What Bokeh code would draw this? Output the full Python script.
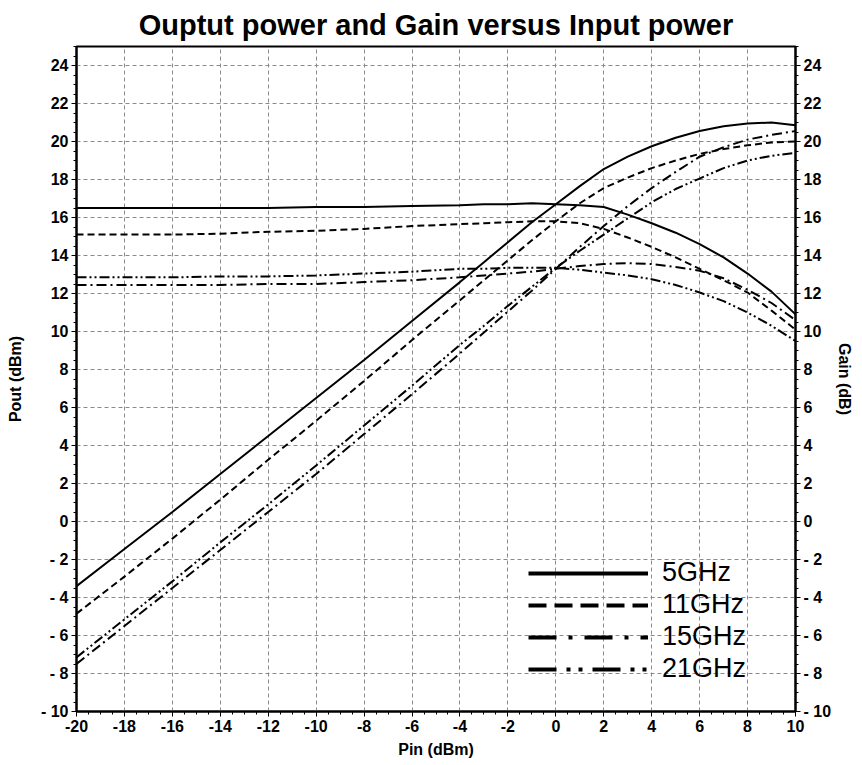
from bokeh.plotting import figure
from bokeh.models import (Range1d, LinearAxis, FixedTicker, ColumnDataSource,
                          Legend, LegendItem)
from bokeh.embed import file_html
from bokeh.resources import INLINE

# ---------------- data ----------------
pin = [-20, -18, -16, -14, -12, -10, -8, -6, -4, -3, -2, -1, 0, 1, 2, 3, 4, 5, 6, 7, 8, 9, 10]

pout_5 = [-3.4, -1.45, 0.5, 2.5, 4.5, 6.5, 8.5, 10.55, 12.6, 13.65, 14.7, 15.75, 16.7,
          17.65, 18.55, 19.2, 19.75, 20.2, 20.55, 20.8, 20.95, 21.0, 20.85]
gain_5 = [16.5, 16.5, 16.5, 16.5, 16.5, 16.55, 16.55, 16.6, 16.65, 16.7, 16.7, 16.75, 16.7,
          16.65, 16.55, 16.15, 15.7, 15.2, 14.6, 13.9, 13.05, 12.1, 10.9]

pout_11 = [-4.85, -2.9, -0.9, 1.15, 3.25, 5.3, 7.4, 9.55, 11.65, 12.7, 13.75, 14.8, 15.8,
           16.75, 17.55, 18.1, 18.6, 19.0, 19.35, 19.6, 19.8, 19.95, 20.0]
gain_11 = [15.1, 15.1, 15.1, 15.15, 15.25, 15.3, 15.4, 15.55, 15.65, 15.7, 15.75, 15.8, 15.8,
           15.7, 15.4, 14.95, 14.45, 13.9, 13.3, 12.7, 12.05, 11.1, 10.1]

pout_15 = [-7.5, -5.5, -3.5, -1.5, 0.5, 2.5, 4.6, 6.7, 8.85, 9.95, 11.05, 12.15, 13.3,
           14.45, 15.55, 16.6, 17.55, 18.4, 19.2, 19.7, 20.1, 20.35, 20.55]
gain_15 = [12.45, 12.45, 12.45, 12.45, 12.5, 12.5, 12.6, 12.7, 12.85, 12.95, 13.05, 13.15, 13.3,
           13.45, 13.55, 13.6, 13.55, 13.4, 13.2, 12.8, 12.2, 11.5, 10.6]

pout_21 = [-7.15, -5.15, -3.15, -1.1, 0.9, 2.95, 5.05, 7.15, 9.3, 10.3, 11.35, 12.35, 13.35,
           14.25, 15.1, 15.95, 16.8, 17.5, 18.05, 18.6, 19.0, 19.25, 19.4]
gain_21 = [12.85, 12.85, 12.85, 12.9, 12.9, 12.95, 13.05, 13.15, 13.3, 13.3, 13.35, 13.35, 13.35,
           13.25, 13.1, 12.95, 12.75, 12.45, 12.05, 11.6, 11.0, 10.3, 9.5]

series_labels = ["5GHz", "11GHz", "15GHz", "21GHz"]

x_ticks = [-20, -18, -16, -14, -12, -10, -8, -6, -4, -2, 0, 2, 4, 6, 8, 10]
x_tick_labels = ["-20", "-18", "-16", "-14", "-12", "-10", "-8", "-6", "-4", "-2",
                 "0", "2", "4", "6", "8", "10"]
y_ticks = [-10, -8, -6, -4, -2, 0, 2, 4, 6, 8, 10, 12, 14, 16, 18, 20, 22, 24]
y_tick_labels = ["- 10", "- 8", "- 6", "- 4", "- 2", "0", "2", "4", "6", "8", "10",
                 "12", "14", "16", "18", "20", "22", "24"]

# ---------------- styles ----------------
FONT = "Liberation Sans"
curve_dash = ["solid", "7 4", "10 4 2 4", "10 3 2 3 2 3"]
legend_dash = ["solid", "18 8", "28 12 4 12", "28 10 4 8 4 10"]

p = figure(width=856, height=763, x_range=Range1d(-20, 10), y_range=Range1d(-10, 25),
           output_backend="svg", toolbar_location=None,
           min_border_left=76, min_border_right=60, min_border_top=46, min_border_bottom=52)
p.extra_y_ranges = {"gain": Range1d(-10, 25)}

p.title.text = "Ouptut power and Gain versus Input power"
p.title.align = "center"
p.title.text_font = FONT
p.title.text_font_size = "29px"
p.title.text_font_style = "bold"
p.title.text_color = "black"
p.title.text_line_height = 1.0
p.title.standoff = 12

p.outline_line_color = "black"
p.outline_line_width = 2
p.outline_line_alpha = 1
p.background_fill_color = "white"
p.border_fill_color = "white"

minor_x = [v / 2 for v in range(-40, 21)]
minor_y = [v / 2 for v in range(-20, 51)]

right_axis = LinearAxis(y_range_name="gain")
p.add_layout(right_axis, "right")

p.xaxis.ticker = FixedTicker(ticks=x_ticks, minor_ticks=minor_x)
p.xaxis.major_label_overrides = dict(zip(x_ticks, x_tick_labels))
for ax in [p.yaxis[0], right_axis]:
    ax.ticker = FixedTicker(ticks=y_ticks, minor_ticks=minor_y)
    ax.major_label_overrides = dict(zip(y_ticks, y_tick_labels))

p.xaxis.axis_label = "Pin (dBm)"
p.yaxis[0].axis_label = "Pout (dBm)"
right_axis.axis_label = "Gain (dB)"

for ax in [p.xaxis[0], p.yaxis[0], right_axis]:
    ax.axis_line_color = "black"
    ax.axis_line_width = 2
    ax.major_tick_out = 5
    ax.major_tick_in = 0
    ax.minor_tick_out = 3
    ax.minor_tick_in = 0
    ax.major_tick_line_color = "black"
    ax.minor_tick_line_color = "black"
    ax.major_label_text_font = FONT
    ax.major_label_text_font_size = "16px"
    ax.major_label_text_font_style = "bold"
    ax.major_label_text_color = "black"
    ax.major_label_standoff = 3
    ax.axis_label_text_font = FONT
    ax.axis_label_text_font_size = "16px"
    ax.axis_label_text_font_style = "bold"
    ax.axis_label_text_color = "black"
p.xaxis.axis_label_standoff = 6
p.yaxis[0].axis_label_standoff = 14
right_axis.axis_label_standoff = 2

for g in [p.xgrid[0], p.ygrid[0]]:
    g.grid_line_color = "#8a8a8a"
    g.grid_line_dash = "4 3"
    g.grid_line_width = 1

pouts = [pout_5, pout_11, pout_15, pout_21]
gains = [gain_5, gain_11, gain_15, gain_21]

for po, ga, dash in zip(pouts, gains, curve_dash):
    src = ColumnDataSource(data=dict(pin=pin, pout=po, gain=ga))
    p.line("pin", "pout", source=src, line_color="black", line_width=2, line_dash=dash)
    p.line("pin", "gain", source=src, y_range_name="gain", line_color="black",
           line_width=2, line_dash=dash)

nan = float("nan")
items = []
for lab, dash in zip(series_labels, legend_dash):
    proxy = p.line(x=[nan], y=[nan], line_color="black", line_width=4, line_dash=dash)
    items.append(LegendItem(label=lab, renderers=[proxy]))

legend = Legend(items=items, location=(452, 27), orientation="vertical",
                glyph_width=120, glyph_height=24, label_standoff=14, spacing=1,
                padding=0, label_text_font=FONT, label_text_font_size="27px",
                label_text_color="black", background_fill_alpha=0,
                border_line_alpha=0)
p.add_layout(legend, "center")

open("out.html", "w").write(file_html(p, INLINE))
